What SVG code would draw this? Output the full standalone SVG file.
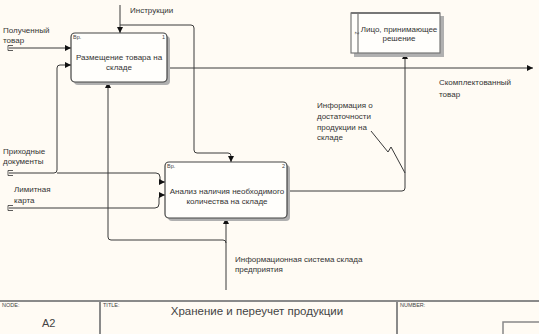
<svg xmlns="http://www.w3.org/2000/svg" width="539" height="334" viewBox="0 0 539 334">
<defs>
<marker id="ah" viewBox="0 0 6 6" refX="6" refY="3" markerWidth="6" markerHeight="6" markerUnits="userSpaceOnUse" orient="auto">
<path d="M0,0 L6,3 L0,6 Z" fill="#111"/>
</marker>
</defs>
<style>
.t{font-family:"Liberation Sans",Arial,sans-serif;font-size:8px;fill:#333}
.s{font-family:"Liberation Sans",Arial,sans-serif;font-size:5.5px;fill:#444}
.c{fill:none;stroke:#3a3a3a;stroke-width:1}
.box{fill:#fffefb;stroke:#444;stroke-width:1.2}
.sh{fill:#b0b0b0}
.fr{stroke:#8a8a8a;stroke-width:2;fill:none}
.tun{fill:none;stroke:#333;stroke-width:0.8}
</style>
<rect width="539" height="334" fill="#fffbf4"/>

<g id="connectors">
  <path class="c" d="M120,5 V33" marker-end="url(#ah)"/>
  <path class="c" d="M120,25 H191 Q194,25 194,28 V150 Q194,153 197,153 H228 Q231,153 231,156 V162" marker-end="url(#ah)"/>
  <path class="c" d="M9,48 H71" marker-end="url(#ah)"/>
  <path class="c" d="M9,173 H54 Q57,173 57,170 V68 Q57,65 60,65 H71" marker-end="url(#ah)"/>
  <path class="c" d="M57,173 H156 Q160,173 160,177 V179 Q160,182 163,182 H165" marker-end="url(#ah)"/>
  <path class="c" d="M9,208 H155 Q159,208 159,204 V198 Q159,195 162,195 H165" marker-end="url(#ah)"/>
  <path class="c" d="M167,68 H533" marker-end="url(#ah)"/>
  <path class="c" d="M287,191 H402 Q405,191 405,188 V53" marker-end="url(#ah)"/>
  <path class="c" d="M226,290 V218" marker-end="url(#ah)"/>
  <path class="c" d="M226,243 Q226,240 223,240 H111 Q108,240 108,237 V82" marker-end="url(#ah)"/>
  <path class="c" d="M371,131 L388,152 L391,147 L405,173"/>
  <path class="tun" d="M8,45.5 H13 M8,50.5 H13 M8,45.5 V50.5"/>
  <path class="tun" d="M8,170.5 H13 M8,175.5 H13 M8,170.5 V175.5"/>
  <path class="tun" d="M8,205.5 H13 M8,210.5 H13 M8,205.5 V210.5"/>
</g>

<g id="node1">
  <rect class="sh" x="74" y="36" width="96" height="49" rx="4"/>
  <rect class="box" x="71" y="33" width="96" height="49" rx="4"/>
  <text class="s" x="73" y="39">Вр.</text>
  <text class="s" x="162" y="39">1</text>
  <text class="t" x="119" y="60" text-anchor="middle">Размещение товара на</text>
  <text class="t" x="119" y="70" text-anchor="middle">складе</text>
</g>

<g id="node2">
  <rect class="sh" x="168" y="165" width="122" height="56" rx="4"/>
  <rect class="box" x="165" y="162" width="122" height="56" rx="4"/>
  <text class="s" x="167" y="168">Вр.</text>
  <text class="s" x="282" y="168">2</text>
  <text class="t" x="227" y="194" text-anchor="middle">Анализ наличия необходимого</text>
  <text class="t" x="227" y="204" text-anchor="middle">количества на складе</text>
</g>

<g id="node3">
  <rect class="sh" x="354" y="16" width="90" height="41"/>
  <rect x="351" y="13" width="89" height="40" fill="#fffefb" stroke="#777" stroke-width="1.2"/>
  <path d="M351,13 H440" stroke="#777" stroke-width="2"/>
  <path d="M358,13 V53" stroke="#777" stroke-width="1.2"/>
  <text class="s" x="354.5" y="33" transform="rotate(90 354.5 33)" text-anchor="middle">2</text>
  <text class="t" x="399" y="32" text-anchor="middle">Лицо, принимающее</text>
  <text class="t" x="399" y="41" text-anchor="middle">решение</text>
</g>

<g id="labels">
  <text class="t" x="130" y="13">Инструкции</text>
  <text class="t" x="3" y="33">Полученный</text>
  <text class="t" x="3" y="43">товар</text>
  <text class="t" x="3" y="154">Приходные</text>
  <text class="t" x="3" y="164">документы</text>
  <text class="t" x="14" y="192">Лимитная</text>
  <text class="t" x="14" y="203">карта</text>
  <text class="t" x="439" y="85">Скомплектованный</text>
  <text class="t" x="439" y="97">товар</text>
  <text class="t" x="317" y="108">Информация о</text>
  <text class="t" x="317" y="119">достаточности</text>
  <text class="t" x="317" y="130">продукции на</text>
  <text class="t" x="317" y="140">складе</text>
  <text class="t" x="235" y="262">Информационная система склада</text>
  <text class="t" x="235" y="272">предприятия</text>
</g>

<g id="frame">
  <path class="fr" d="M0,301 H539"/>
  <path class="fr" d="M100,301 V334 M397,301 V334"/>
  <path d="M503,334 V322 H539" fill="none" stroke="#888" stroke-width="1.5"/>
  <text class="s" x="2" y="307">NODE:</text>
  <text class="s" x="103" y="307">TITLE:</text>
  <text class="s" x="400" y="307">NUMBER:</text>
  <text x="42" y="327" font-family="Liberation Sans,Arial,sans-serif" font-size="11" fill="#444">A2</text>
  <text x="257" y="315" text-anchor="middle" font-family="Liberation Sans,Arial,sans-serif" font-size="11.5" fill="#444">Хранение и переучет продукции</text>
</g>
</svg>
